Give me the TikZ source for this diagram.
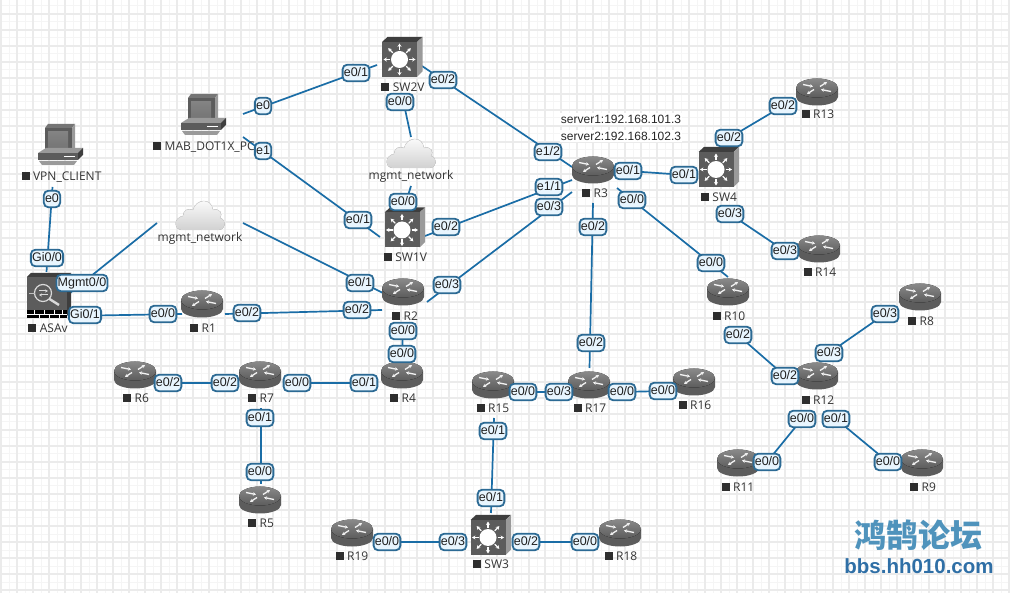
\documentclass[tikz,border=0pt]{standalone}
\usepackage{fontspec}
\setmainfont{Liberation Sans}
\newfontfamily\devfont{Open Sans}
\newfontfamily\cjkfont{Noto Sans CJK SC}
\usetikzlibrary{arrows.meta}
\definecolor{linkblue}{HTML}{1A6DA6}
\definecolor{ifborder}{HTML}{2C6A94}
\definecolor{iffill}{HTML}{E8F5FE}
\definecolor{gridmaj}{HTML}{EBEBEB}
\definecolor{gridmin}{HTML}{F5F5F5}
\definecolor{metal}{HTML}{5C5C5C}
\definecolor{metaltop}{HTML}{757575}
\definecolor{metaldark}{HTML}{3E3E3E}
\definecolor{metalside}{HTML}{9A9A9A}
\definecolor{wmtop}{HTML}{4F93BC}
\definecolor{wmurl}{HTML}{2F6FA6}
\tikzset{
  link/.style={draw=linkblue,line width=1.7pt},
  devbox/.style={inner sep=0pt,minimum width=36pt,minimum height=30pt},
  iflabel/.style={draw=ifborder,fill=iffill,line width=1.8pt,rounded corners=4.5pt,
    inner xsep=1.2pt,inner ysep=0pt,text height=9.5pt,text depth=3pt,minimum height=16.5pt,
    font=\fontsize{12.5}{14}\selectfont,text=black!88},
  devlabel/.style={inner sep=0pt,font=\devfont\fontsize{12}{14}\selectfont,text=black!80},
  plaintext/.style={inner xsep=1pt,inner ysep=2pt,fill=white,font=\fontsize{12}{14}\selectfont,text=black!85},
  arr/.style={draw=white,line width=1.3pt,-{Stealth[length=3.4pt,width=4pt]}},
  rarr/.style={draw=white!95!black,line width=1.3pt,-{Stealth[length=3pt,width=3.6pt]}},
  routericon/.pic={
    \fill[metal] (-21,-4) -- (-21,5) .. controls (-21,10) and (-11,13.5) .. (0,13.5)
       .. controls (11,13.5) and (21,10) .. (21,5) -- (21,-4) -- cycle;
    \fill[top color=metaltop!85!white,bottom color=metal] (0,-4) ellipse [x radius=21,y radius=9.5];
    \draw[rarr] (-14,-7.5) -- (-4,-5.5);
    \draw[rarr] (14,-0.5) -- (4,-2.5);
    \draw[rarr] (3,-5.5) -- (10,-10);
    \draw[rarr] (-3,-2.5) -- (-10,2);
  },
  switchicon/.pic={
    \fill[metaldark] (-17.5,-17.5) -- (-12,-22.5) -- (23,-22.5) -- (17.5,-17.5) -- cycle;
    \fill[metalside] (17.5,-17.5) -- (23,-22.5) -- (23,12) -- (17.5,17.5) -- cycle;
    \fill[metal] (-17.5,-17.5) rectangle (17.5,17.5);
    \foreach \a in {0,45,...,315}
      \draw[arr] (\a:9.5) -- (\a:16);
    \fill[white] (0,0) circle [radius=8.5];
  },
  pcicon/.pic={
    \fill[metaltop] (-15,-17) -- (-12,-21) -- (15,-21) -- (12,-17) -- cycle;
    \fill[metalside] (12,-17) -- (15,-21) -- (15,3) -- (12,7) -- cycle;
    \fill[metal] (-15,-17) rectangle (12,8);
    \fill[top color=metaltop!90!white,bottom color=metaltop] (-12,-13) rectangle (8,3);
    \fill[metalside] (-22,8) -- (-14,3) -- (23,3) -- (18,8) -- cycle;
    \fill[metaldark] (18,8) -- (23,3) -- (23,10) -- (18,15) -- cycle;
    \fill[metal] (-22,8) rectangle (18,15);
    \draw[white,line width=0.8pt] (4,11) -- (15,11);
    \fill[metalside] (-21,16) -- (17,16) -- (14,20) -- (-18,20) -- cycle;
  },
  cloudicon/.pic={
    \fill[top color=white,bottom color=black!18!white,draw=black!14!white,line width=0.4pt]
      (-18,15) .. controls (-26,15) and (-27,3) .. (-17,1)
      .. controls (-17,-5) and (-11,-7) .. (-7,-5)
      .. controls (-4,-16) and (11,-18) .. (13,-5)
      .. controls (20,-7) and (23,-1) .. (20,3)
      .. controls (27,5) and (26,15) .. (18,15) -- cycle;
  },
  asaicon/.pic={
    \fill[metaldark] (-20,-19) -- (-16,-23) -- (24,-23) -- (20,-19) -- cycle;
    \fill[metaldark] (20,-19) -- (24,-23) -- (24,16) -- (20,20) -- cycle;
    \fill[metal] (-20,-19) rectangle (20,14);
    \fill[black] (-20,14) rectangle (20,22);
    \draw[white,line width=0.5pt] (-20,18) -- (20,18);
    \foreach \bx in {-13,-3,7,15} \draw[white,line width=0.5pt] (\bx,14) -- (\bx,18);
    \foreach \bx in {-8,2,12} \draw[white,line width=0.5pt] (\bx,18) -- (\bx,22);
    \draw[white!85!black,line width=1.2pt] (-4,-3) circle [radius=8.5];
    \draw[white!85!black,line width=2.4pt] (2.5,3) -- (12,9);
    \draw[white!85!black,line width=1pt,-{Stealth[length=3pt,width=3pt]}] (-8,-5) -- (1,-5);
    \draw[white!85!black,line width=1pt,-{Stealth[length=3pt,width=3pt]}] (1,-1) -- (-8,-1);
    \draw[white!75!black,line width=0.8pt] (-18,-3) -- (-12.5,-3);
  }
}
\newcommand{\devc}[4]{\node[devbox] (#1) at (#2,#3) {};}
\newcommand{\lnk}[6]{\draw[link] ([shift={(#2,#3)}]#1.center) -- ([shift={(#5,#6)}]#4.center);}
\newcounter{iflc}
\newcommand{\ifl}[3]{\stepcounter{iflc}\node[iflabel] (if\theiflc) at (#1,#2) {#3};}
\newcommand{\dlab}[4]{\node[devlabel] (#1lab) at (#2,#3) {\textcolor{black!82}{\rule{8pt}{8pt}}\hspace{3.5pt}#4};}
\begin{document}
\begin{tikzpicture}[x=1pt,y=-1pt]
\useasboundingbox (0,0) rectangle (1010,593);
\fill[white] (0,0) rectangle (1010,593);
% grid
\foreach \gx in {9,25,...,1009} \draw[gridmin,line width=1pt] (\gx,0) -- (\gx,593);
\foreach \gy in {6,22,...,590} \draw[gridmin,line width=1pt] (0,\gy) -- (1010,\gy);
\foreach \gx in {1,17,...,1009} \draw[gridmaj,line width=1.2pt] (\gx,0) -- (\gx,593);
\foreach \gy in {14,30,...,590} \draw[gridmaj,line width=1.2pt] (0,\gy) -- (1010,\gy);
% device anchors
\devc{VPN}{60}{145}{}
\devc{MAB}{203}{115}{}
\devc{CA}{200}{215}{}
\devc{CB}{411}{153}{}
\devc{SWtwo}{399.5}{59.5}{}
\devc{SWone}{402}{230}{}
\devc{SWfour}{716}{169.5}{}
\devc{SWthree}{488}{537.5}{}
\devc{ASA}{47}{296}{}
\devc{Rone}{202}{304}{}
\devc{Rtwo}{403}{292}{}
\devc{Rthree}{593}{170}{}
\devc{Rfour}{402}{375}{}
\devc{Rfive}{260}{500}{}
\devc{Rsix}{135}{375}{}
\devc{Rseven}{260}{375}{}
\devc{Reight}{920}{297}{}
\devc{Rnine}{922}{463}{}
\devc{Rten}{728}{292}{}
\devc{Releven}{738}{463}{}
\devc{Rtwelve}{817}{376}{}
\devc{Rthirteen}{817}{92}{}
\devc{Rfourteen}{819}{249}{}
\devc{Rfifteen}{493}{385}{}
\devc{Rsixteen}{694}{382}{}
\devc{Rseventeen}{589}{385}{}
\devc{Reighteen}{620}{533}{}
\devc{Rnineteen}{352}{533}{}
% free text
\node[plaintext] (srvone) at (621,119) {server1:192.168.101.3};
\node[plaintext] (srvtwo) at (621,136) {server2:192.168.102.3};
% connectors
\lnk{VPN}{-7.5}{42}{ASA}{-0.5}{-24}
\lnk{ASA}{23}{-3}{CA}{-43}{8}
\lnk{CA}{43}{8}{Rtwo}{-20}{1}
\lnk{ASA}{21}{20}{Rone}{-20}{10}
\lnk{Rone}{23}{10}{Rtwo}{-21}{18}
\lnk{MAB}{40}{-1}{SWtwo}{-22.5}{5.5}
\lnk{MAB}{40}{22}{SWone}{-22}{7}
\lnk{SWtwo}{22.5}{6.5}{Rthree}{-21}{-3}
\lnk{SWtwo}{2.5}{35.5}{CB}{0}{-16}
\lnk{CB}{0}{33}{SWone}{2}{-22}
\lnk{SWone}{23}{6}{Rthree}{-21}{10}
\lnk{Rtwo}{24}{10}{Rthree}{-21}{22}
\lnk{Rthree}{35}{1}{SWfour}{-30}{5.5}
\lnk{Rthree}{24}{18}{Rten}{0}{-15}
\lnk{Rthree}{0}{33}{Rseventeen}{0.5}{-17}
\lnk{Rtwo}{0}{39}{Rfour}{0}{-21}
\lnk{SWfour}{13}{-31.5}{Rthirteen}{-34}{14}
\lnk{SWfour}{14}{44.5}{Rfourteen}{-34}{2}
\lnk{Rten}{10}{43}{Rtwelve}{-32}{0}
\lnk{Rtwelve}{12}{-23}{Reight}{-35}{17}
\lnk{Rtwelve}{-15}{43}{Releven}{29}{-1}
\lnk{Rtwelve}{19}{43}{Rnine}{-34}{-1}
\lnk{Rsix}{33}{8}{Rseven}{-35}{8}
\lnk{Rseven}{37}{8}{Rfour}{-38}{8}
\lnk{Rseven}{1}{33}{Rfive}{1}{-16}
\lnk{Rfifteen}{30}{7}{Rseventeen}{-30}{7}
\lnk{Rseventeen}{33}{7}{Rsixteen}{-31}{9}
\lnk{Rfifteen}{1}{33}{SWthree}{3}{-24.5}
\lnk{Rnineteen}{35}{9}{SWthree}{-35}{4.5}
\lnk{SWthree}{38}{4.5}{Reighteen}{-35}{9}
% icons
\pic at (VPN) {pcicon};
\pic at (MAB) {pcicon};
\pic at (CA) {cloudicon};
\pic at (CB) {cloudicon};
\pic at (SWtwo) {switchicon};
\pic at (SWone) {switchicon};
\pic at (SWfour) {switchicon};
\pic at (SWthree) {switchicon};
\pic at (ASA) {asaicon};
\foreach \rn in {Rone,Rtwo,Rthree,Rfour,Rfive,Rsix,Rseven,Reight,Rnine,Rten,Releven,Rtwelve,Rthirteen,Rfourteen,Rfifteen,Rsixteen,Rseventeen,Reighteen,Rnineteen}
  \pic at (\rn) {routericon};
% device labels
\dlab{VPN}{61.5}{177}{VPN\_CLIENT}
\node[devlabel,anchor=west] (MABlab) at (153,147) {\textcolor{black!82}{\rule{8pt}{8pt}}\hspace{3.5pt}MAB\_DOT1X\_PC};
\node[devlabel] (CAlab) at (200,238) {mgmt\_network};
\node[devlabel] (CBlab) at (411,176) {mgmt\_network};
\dlab{SWtwo}{403}{87}{SW2V}
\dlab{SWone}{405.5}{257}{SW1V}
\dlab{SWfour}{719}{197}{SW4}
\dlab{SWthree}{491}{564}{SW3}
\dlab{ASA}{48}{328}{ASAv}
\dlab{Rone}{203}{328}{R1}
\dlab{Rtwo}{405}{316}{R2}
\dlab{Rthree}{595}{193}{R3}
\dlab{Rfour}{403}{398}{R4}
\dlab{Rfive}{261}{523}{R5}
\dlab{Rsix}{136}{398}{R6}
\dlab{Rseven}{261}{398}{R7}
\dlab{Reight}{921}{321}{R8}
\dlab{Rnine}{923}{487}{R9}
\dlab{Rten}{729}{316}{R10}
\dlab{Releven}{738}{487}{R11}
\dlab{Rtwelve}{818}{400}{R12}
\dlab{Rthirteen}{818}{114}{R13}
\dlab{Rfourteen}{820}{272}{R14}
\dlab{Rfifteen}{493}{408}{R15}
\dlab{Rsixteen}{695}{405}{R16}
\dlab{Rseventeen}{590}{408}{R17}
\dlab{Reighteen}{621}{556}{R18}
\dlab{Rnineteen}{352}{556}{R19}
% interface labels
\ifl{52}{199}{e0}
\ifl{47}{258}{Gi0/0}
\ifl{82}{283}{Mgmt0/0}
\ifl{85}{315}{Gi0/1}
\ifl{163}{314}{e0/0}
\ifl{247}{313}{e0/2}
\ifl{357}{310}{e0/2}
\ifl{360}{283}{e0/1}
\ifl{447}{285}{e0/3}
\ifl{403}{331}{e0/0}
\ifl{402}{354}{e0/0}
\ifl{263}{106}{e0}
\ifl{263}{151}{e1}
\ifl{356}{73}{e0/1}
\ifl{358}{220}{e0/1}
\ifl{443}{80}{e0/2}
\ifl{400}{102}{e0/0}
\ifl{403}{202}{e0/0}
\ifl{446}{227}{e0/2}
\ifl{548}{152}{e1/2}
\ifl{549}{187}{e1/1}
\ifl{549}{207}{e0/3}
\ifl{628}{171}{e0/1}
\ifl{684}{175}{e0/1}
\ifl{632}{200}{e0/0}
\ifl{711}{263}{e0/0}
\ifl{593}{227}{e0/2}
\ifl{591}{343}{e0/2}
\ifl{729}{138}{e0/2}
\ifl{783}{106}{e0/2}
\ifl{730}{214}{e0/3}
\ifl{785}{251}{e0/3}
\ifl{738}{335}{e0/2}
\ifl{785}{376}{e0/2}
\ifl{829}{353}{e0/3}
\ifl{885}{314}{e0/3}
\ifl{802}{419}{e0/0}
\ifl{836}{419}{e0/1}
\ifl{767}{462}{e0/0}
\ifl{888}{462}{e0/0}
\ifl{168}{383}{e0/2}
\ifl{225}{383}{e0/2}
\ifl{297}{383}{e0/0}
\ifl{364}{383}{e0/1}
\ifl{260}{418}{e0/1}
\ifl{260}{472}{e0/0}
\ifl{523}{392}{e0/0}
\ifl{559}{392}{e0/3}
\ifl{622}{392}{e0/0}
\ifl{663}{391}{e0/0}
\ifl{493}{431}{e0/1}
\ifl{491}{498}{e0/1}
\ifl{387}{542}{e0/0}
\ifl{453}{542}{e0/3}
\ifl{526}{542}{e0/2}
\ifl{585}{542}{e0/0}
% watermark
\node[inner sep=0pt,text=wmtop,font=\cjkfont\bfseries\fontsize{32}{34}\selectfont] (wmcn) at (918,535) {鸿鹄论坛};
\node[inner sep=0pt,text=wmurl,font=\bfseries\fontsize{20.5}{22}\selectfont] (wmurl) at (919,566) {bbs.hh010.com};
\end{tikzpicture}
\end{document}
